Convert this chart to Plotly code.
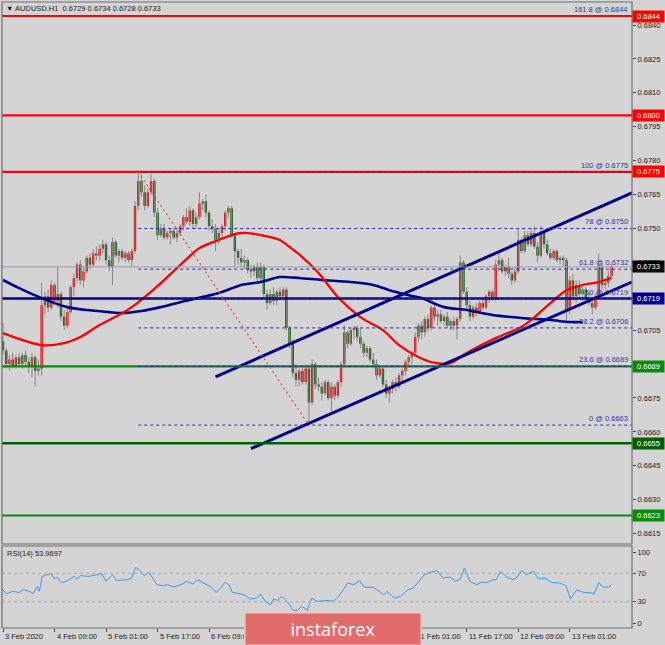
import plotly.graph_objects as go

TITLE = "AUDUSD.H1  0.6729 0.6734 0.6728 0.6733"
RSI_LABEL = "RSI(14) 53.9697"

# hourly candles, prices x 10000
OPEN = [6700,6696,6690,6692,6689,6693,6690,6694,6691,6689,6693,6687,
        6688,6716,6720,6715,6725,6718,6721,6711,6707,6713,6724,6728,
        6734,6727,6731,6737,6734,6739,6738,6741,6743,6736,6733,6744,
        6738,6740,6737,6739,6736,6740,6760,6771,6766,6760,6766,6771,
        6757,6747,6750,6746,6748,6749,6746,6748,6751,6755,6753,6758,
        6752,6755,6761,6762,6757,6751,6750,6745,6748,6751,6757,6759,
        6747,6740,6737,6735,6736,6732,6731,6733,6728,6733,6721,6717,
        6721,6718,6722,6720,6723,6706,6699,6686,6683,6687,6682,6688,
        6673,6690,6681,6680,6677,6682,6675,6680,6676,6682,6690,6704,
        6699,6705,6706,6702,6699,6695,6697,6692,6690,6685,6688,6681,
        6677,6679,6682,6680,6685,6687,6691,6693,6695,6702,6707,6704,
        6710,6706,6715,6711,6712,6709,6711,6707,6709,6707,6710,6735,
        6722,6716,6711,6715,6713,6717,6715,6720,6722,6719,6734,6736,
        6731,6733,6730,6727,6731,6745,6740,6747,6743,6748,6742,6738,
        6748,6743,6739,6737,6740,6736,6737,6736,6714,6727,6720,6725,
        6721,6723,6719,6717,6715,6720,6733,6725,6726,6729]
HIGH = [6708,6697,6694,6695,6694,6695,6695,6696,6693,6695,6694,6692,
        6726,6722,6723,6727,6726,6733,6722,6714,6715,6725,6730,6735,
        6736,6733,6738,6739,6741,6742,6743,6745,6744,6738,6746,6745,
        6741,6741,6740,6740,6741,6762,6775,6774,6769,6768,6774,6772,
        6759,6752,6752,6749,6750,6750,6749,6752,6756,6759,6760,6759,
        6757,6766,6763,6765,6758,6754,6752,6750,6752,6758,6760,6760,
        6748,6741,6741,6738,6737,6734,6734,6735,6735,6734,6723,6723,
        6724,6723,6724,6724,6724,6707,6701,6690,6688,6689,6690,6689,
        6692,6691,6684,6682,6683,6683,6682,6681,6683,6691,6707,6705,
        6706,6707,6707,6706,6700,6698,6698,6695,6692,6689,6689,6683,
        6680,6683,6684,6686,6688,6692,6694,6696,6704,6708,6709,6711,
        6712,6716,6717,6714,6714,6712,6713,6710,6711,6711,6738,6736,
        6724,6718,6716,6717,6718,6719,6721,6723,6723,6736,6739,6737,
        6734,6737,6731,6733,6750,6746,6749,6749,6750,6751,6744,6751,
        6749,6745,6741,6741,6741,6738,6738,6737,6729,6730,6727,6727,
        6724,6724,6722,6719,6721,6739,6734,6728,6731,6734]
LOW = [6694,6688,6687,6688,6688,6689,6688,6689,6686,6684,6680,6685,
       6685,6712,6713,6714,6716,6715,6709,6705,6706,6712,6720,6726,
       6725,6724,6730,6732,6733,6736,6736,6739,6734,6731,6725,6737,
       6735,6736,6735,6735,6733,6739,6758,6764,6758,6759,6765,6755,
       6745,6746,6745,6745,6743,6745,6744,6747,6749,6752,6751,6750,
       6750,6754,6758,6755,6749,6748,6740,6743,6745,6749,6755,6746,
       6733,6734,6733,6732,6730,6728,6729,6726,6726,6719,6714,6716,
       6716,6716,6718,6718,6705,6697,6684,6680,6680,6681,6681,6663,
       6672,6679,6678,6674,6676,6674,6669,6674,6675,6680,6689,6697,
       6698,6701,6700,6697,6693,6693,6691,6688,6683,6684,6680,6675,
       6673,6677,6678,6679,6682,6685,6689,6690,6694,6700,6701,6702,
       6704,6705,6709,6707,6708,6707,6706,6705,6705,6701,6709,6721,
       6714,6709,6710,6711,6712,6714,6714,6717,6718,6718,6731,6730,
       6729,6728,6725,6726,6730,6739,6739,6742,6742,6741,6735,6737,
       6741,6738,6736,6736,6735,6734,6733,6708,6712,6718,6717,6719,
       6718,6717,6716,6712,6714,6719,6723,6723,6724,6728]
CLOSE = [6696,6690,6692,6689,6693,6690,6694,6691,6689,6693,6687,6688,
         6716,6720,6715,6725,6718,6721,6711,6707,6713,6724,6728,6734,
         6727,6731,6737,6734,6739,6738,6741,6743,6736,6733,6744,6738,
         6740,6737,6739,6736,6740,6760,6771,6766,6760,6766,6771,6757,
         6747,6750,6746,6748,6749,6746,6748,6751,6755,6753,6758,6752,
         6755,6761,6762,6757,6751,6750,6745,6748,6751,6757,6759,6747,
         6740,6737,6735,6736,6732,6731,6733,6728,6733,6721,6717,6721,
         6718,6722,6720,6723,6706,6699,6686,6683,6687,6682,6688,6673,
         6690,6681,6680,6677,6682,6675,6680,6676,6682,6690,6704,6699,
         6705,6706,6702,6699,6695,6697,6692,6690,6685,6688,6681,6677,
         6679,6682,6680,6685,6687,6691,6693,6695,6702,6707,6704,6710,
         6706,6715,6711,6712,6709,6711,6707,6709,6707,6710,6735,6722,
         6716,6711,6715,6713,6717,6715,6720,6722,6719,6734,6736,6731,
         6733,6730,6727,6731,6745,6740,6747,6743,6748,6742,6738,6748,
         6743,6739,6737,6740,6736,6737,6736,6714,6727,6720,6725,6721,
         6723,6719,6717,6715,6720,6733,6725,6726,6729,6733]

# moving averages (bar index, price)
MA_RED_IDX = [0,12,19,24,30,36,40,44,49,55,61,67,71,74,80,86,89,92,98,104,
              111,118,123,129,133,139,144,153,161,164,170,175,180,185,189]
MA_RED_VAL = [0.67037,0.66984,0.66993,0.67020,0.67073,0.67117,0.67152,0.67196,
              0.67258,0.67338,0.67413,0.67449,0.67471,0.67480,0.67471,0.67449,
              0.67418,0.67385,0.67303,0.67196,0.67108,0.67050,0.66984,0.66931,
              0.66909,0.66904,0.66949,0.67015,0.67064,0.67095,0.67170,0.67227,
              0.67250,0.67263,0.67281]
MA_BLUE_IDX = [0,5,12,20,26,33,37,43,49,55,67,74,80,86,92,99,108,115,120,126,
               130,137,144,152,161,170,176,180]
MA_BLUE_VAL = [0.67272,0.67236,0.67192,0.67152,0.67139,0.67130,0.67126,0.67135,
               0.67152,0.67174,0.67214,0.67250,0.67263,0.67285,0.67281,0.67272,
               0.67263,0.67250,0.67227,0.67205,0.67192,0.67152,0.67139,0.67117,
               0.67104,0.67095,0.67086,0.67086]

# RSI(14) readings (bar position, value)
RSI_IDX = [0,1,3,5,6.3,8.3,9.3,10.7,11.3,12.2,13.6,14.9,16,16.8,18.2,20.1,22.1,23,
           24.1,26.7,30.7,32,34,35.3,38.6,39.9,41.2,42.5,43.8,45.4,46.5,47.8,49.8,
           51.1,53.1,55.7,57,59,60.3,62.3,64.3,66.2,67.6,68.9,70.2,71.2,72.8,74.8,
           76.8,78.7,80.1,81.4,83.1,84,85.3,86.6,88.6,89.9,91.3,92.8,94.5,95.9,97.6,
           100.5,102.5,104.2,107.1,109,110.8,112.1,115,118.3,119.2,121.5,123.5,
           125.8,127.5,130.8,132.7,134.7,136.7,138.7,140.6,142,143.3,145,147.2,
           148.5,150.5,152.1,153.2,154.5,156.4,158.4,159.7,161.1,162.4,164.7,
           166.3,168.3,170.3,172.9,174.9,176.2,178.2,180.2,182.8,183.5,185,186.3,
           188.1,189]
RSI_VAL = [47,41,44.6,43,47,44.6,40.8,51.6,44.6,65.7,68,69.5,62,64.8,56.3,60,65.7,62,
           66.7,65.7,69.5,58.7,68,60,61,63.4,78.4,74.2,66.7,71.4,63.4,54,52.6,54,50.7,
           55,58.7,55,61,56.3,51.6,43.2,49.3,57.3,54,43.2,41.3,40,33.8,35.2,40.8,30.5,
           25.8,33.8,31.9,37.6,28.2,18.8,17.4,23.5,17.8,35.2,30.5,31.9,30.5,37.6,56.3,
           54,60,50.7,50.2,40,44.6,35.2,37.6,47,49.3,68,71.4,73.7,63.4,64.8,58.7,62,
           77.5,58.7,54,57.3,57.3,61,61,72.8,64.8,61,64.8,74.2,68,72.8,62,63.4,57.3,
           56.3,52.6,33.8,47,43.2,42.3,40,57.3,50.7,50.7,53.97]

# time axis: tick bars and the labels that are visible (others lie under the banner)
DATE_IDX = [0,16,32,48,64,80,96,112,128,144,160,176]
LABEL_IDX = [0,16,32,48,64,128,144,160,176]
LABEL_TEXT = ["3 Feb 2020","4 Feb 09:00","5 Feb 01:00","5 Feb 17:00","6 Feb 09:00",
              "11 Feb 01:00","11 Feb 17:00","12 Feb 09:00","13 Feb 01:00"]

PRICE_TICKS = [0.6840,0.6825,0.6810,0.6795,0.6780,0.6765,0.6750,0.6735,0.6720,
               0.6705,0.6690,0.6675,0.6660,0.6645,0.6630,0.6615]
PRICE_TICK_TEXT = ["0.6840","0.6825","0.6810","0.6795","0.6780","0.6765","0.6750","0.6735","",
                   "0.6705","","0.6675","0.6660","0.6645","0.6630","0.6615"]
RSI_TICKS = [100,70,30,0]
RSI_LEVELS = [70,30]

RED_LEVELS = [0.6844,0.6800,0.6775]
BLUE_LEVELS = [0.6719]
GREEN_LEVELS = [0.6689,0.6623]
DKGREEN_LEVELS = [0.6655]

FIB_NAMES = ["161.8","100","78","61.8","50","38.2","23.6","0"]
FIB_PRICES = [0.6844,0.6775,0.6750,0.6732,0.6719,0.6706,0.6689,0.6663]
FIB_ANCHOR_IDX = [42,95]
FIB_ANCHOR_VAL = [0.6775,0.6663]

CH_UP_IDX = [66,195.3]
CH_UP_VAL = [0.66843,0.67657]
CH_LO_IDX = [77,195.3]
CH_LO_VAL = [0.66526,0.67263]

BANNER = "instaforex"

# ---------------- layout geometry ----------------
W, H = 665, 645
ML, MR, MT, MB = 2, 33, 2, 17
PW, PH = W - ML - MR, H - MT - MB
XR = [-0.31, 195.34]
def py(p):  # pixel y -> paper
    return (H - MB - p) / PH
def px(p):
    return (p - ML) / PW
MAIN_DOM = [py(544), 1]
RSI_DOM = [0, py(546)]

FONT = "Liberation Sans"
BG = "#d4d4d4"
P = lambda v: v / 10000.0

n = len(CLOSE)
idx = list(range(n))
o = [P(v) for v in OPEN]; h = [P(v) for v in HIGH]
l = [P(v) for v in LOW]; c = [P(v) for v in CLOSE]

fig = go.Figure()

# wicks
wx, wy = [], []
for i in idx:
    wx += [i, i, None]; wy += [l[i], h[i], None]
fig.add_trace(go.Scatter(x=wx, y=wy, mode="lines", line=dict(color="#868686", width=1),
                         hoverinfo="skip", showlegend=False))
# bodies
base = [min(o[i], c[i]) for i in idx]
hgt = [max(abs(c[i] - o[i]), 0.00004) for i in idx]
cols = ["#e80000" if c[i] >= o[i] else "#005000" for i in idx]
fig.add_trace(go.Bar(x=idx, y=hgt, base=base, width=0.74, marker=dict(color=cols, line=dict(width=0)),
                     hoverinfo="skip", showlegend=False))

# moving averages
fig.add_trace(go.Scatter(x=MA_BLUE_IDX, y=MA_BLUE_VAL, mode="lines",
                         line=dict(color="#00008b", width=2.6, shape="spline", smoothing=0.8),
                         hoverinfo="skip", showlegend=False))
fig.add_trace(go.Scatter(x=MA_RED_IDX, y=MA_RED_VAL, mode="lines",
                         line=dict(color="#ff0000", width=2.3, shape="spline", smoothing=0.8),
                         hoverinfo="skip", showlegend=False))
# channel
for xs, ys in [(CH_UP_IDX, CH_UP_VAL), (CH_LO_IDX, CH_LO_VAL)]:
    fig.add_trace(go.Scatter(x=xs, y=ys, mode="lines", line=dict(color="#00008b", width=3),
                             hoverinfo="skip", showlegend=False, cliponaxis=True))
# RSI
fig.add_trace(go.Scatter(x=RSI_IDX, y=RSI_VAL, mode="lines", yaxis="y2",
                         line=dict(color="#3d98f5", width=1), hoverinfo="skip", showlegend=False))

shapes = []
def hline(y, color, width, dash="solid", x0=None, yref="y"):
    if x0 is None:
        shapes.append(dict(type="line", xref="paper", x0=0, x1=1, yref=yref, y0=y, y1=y,
                           line=dict(color=color, width=width, dash=dash)))
    else:
        shapes.append(dict(type="line", xref="x", x0=x0, x1=XR[1], yref=yref, y0=y, y1=y,
                           line=dict(color=color, width=width, dash=dash)))

# bid line
hline(c[-1], "#9c9cac", 1)
for v in RED_LEVELS:
    hline(v, "#ff0000", 2.2)
for v in GREEN_LEVELS:
    hline(v, "#0a8a0a", 2.2)
for v in DKGREEN_LEVELS:
    hline(v, "#006000", 2.6)
for v in BLUE_LEVELS:
    hline(v, "#00008b", 2.6)
# fibonacci levels
for name, v in zip(FIB_NAMES, FIB_PRICES):
    if name == "161.8":
        continue
    hline(v, "#2a2aa8", 1, dash="3px,3px", x0=FIB_ANCHOR_IDX[0])
shapes.append(dict(type="line", xref="x", yref="y", x0=FIB_ANCHOR_IDX[0], y0=FIB_ANCHOR_VAL[0],
                   x1=FIB_ANCHOR_IDX[1], y1=FIB_ANCHOR_VAL[1],
                   line=dict(color="#f04848", width=1.2, dash="2px,3px")))
# RSI levels
for v in RSI_LEVELS:
    hline(v, "#a6a6a6", 1, dash="3px,3px", yref="y2")
# frames
shapes.append(dict(type="rect", xref="paper", yref="paper", x0=0, x1=1, y0=MAIN_DOM[0], y1=1,
                   line=dict(color="#6e6e6e", width=1.2)))
shapes.append(dict(type="rect", xref="paper", yref="paper", x0=0, x1=1, y0=0, y1=RSI_DOM[1],
                   line=dict(color="#6e6e6e", width=1.2)))

ann = []
# fib labels
for name, v in zip(FIB_NAMES, FIB_PRICES):
    ann.append(dict(xref="paper", x=px(630), xanchor="right", yref="y", y=v, yanchor="bottom",
                    text=f"{name} @ {v:.4f}", showarrow=False,
                    font=dict(family=FONT, size=7.5, color="#3434a4")))
# price boxes
def box(v, bg):
    ann.append(dict(xref="paper", x=px(632), xanchor="left", yref="y", y=v, yanchor="middle",
                    text=f"{v:.4f}", showarrow=False, bgcolor=bg, borderpad=1, width=29,
                    font=dict(family=FONT, size=7.5, color="#ffffff")))
for v in RED_LEVELS:
    box(v, "#ff0000")
box(BLUE_LEVELS[0], "#00008b")
for v in GREEN_LEVELS:
    box(v, "#0a8a0a")
box(DKGREEN_LEVELS[0], "#006000")
box(c[-1], "#000000")
# title / rsi label
ann.append(dict(xref="paper", x=px(4), xanchor="left", yref="paper", y=py(8), yanchor="middle",
                text="\u25BC " + TITLE, showarrow=False, font=dict(family=FONT, size=7.5, color="#1e1e1e")))
ann.append(dict(xref="paper", x=px(5), xanchor="left", yref="paper", y=py(553), yanchor="middle",
                text=RSI_LABEL, showarrow=False, font=dict(family=FONT, size=7.5, color="#1e1e1e")))
# date labels
for i, t in zip(LABEL_IDX, LABEL_TEXT):
    ann.append(dict(xref="x", x=i, xanchor="left", yref="paper", y=0, yanchor="top", yshift=-2,
                    xshift=0, text=t, showarrow=False, font=dict(family=FONT, size=7.5, color="#1e1e1e")))
# banner
ann.append(dict(xref="paper", x=px(333), xanchor="center", yref="paper", y=py(629), yanchor="middle",
                text=BANNER, showarrow=False, bgcolor="#e26c6c", bordercolor="#f3c6c6", borderwidth=1.5,
                borderpad=0, width=175, height=31,
                font=dict(family="Open Sans", size=18, color="#ffffff")))

fig.update_layout(
    width=W, height=H, margin=dict(l=ML, r=MR, t=MT, b=MB, autoexpand=False),
    paper_bgcolor=BG, plot_bgcolor=BG, barmode="overlay", showlegend=False,
    font=dict(family=FONT, size=7.5, color="#1e1e1e"),
    xaxis=dict(domain=[0, 1], range=XR, anchor="y2", showgrid=False, zeroline=False,
               showticklabels=False, ticks="outside", ticklen=3, tickcolor="#4a4a4a",
               tickvals=DATE_IDX, showline=False, fixedrange=True),
    yaxis=dict(domain=MAIN_DOM, range=[0.66104, 0.68502], anchor="x", side="right",
               showgrid=False, zeroline=False, tickvals=PRICE_TICKS,
               ticktext=PRICE_TICK_TEXT, ticks="outside", ticklen=3,
               tickcolor="#4a4a4a", tickfont=dict(family=FONT, size=7.5, color="#1e1e1e"),
               showline=False),
    yaxis2=dict(domain=RSI_DOM, range=[-7, 108.5], anchor="x", side="right", showgrid=False,
                zeroline=False, tickvals=RSI_TICKS, ticktext=[str(v) for v in RSI_TICKS],
                ticks="outside", ticklen=3, tickcolor="#4a4a4a",
                tickfont=dict(family=FONT, size=7.5, color="#1e1e1e"), showline=False),
    shapes=shapes, annotations=ann,
)

fig.write_html("out.html", config={"displayModeBar": False},
               post_script="document.body.style.margin='0';document.body.style.background='#d4d4d4';")
